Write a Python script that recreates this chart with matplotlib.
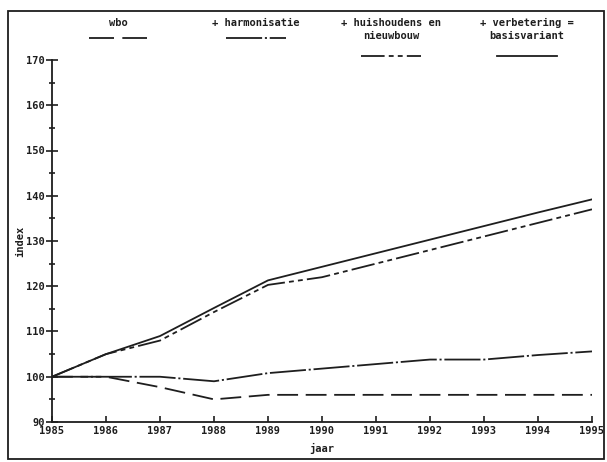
import matplotlib
matplotlib.use("Agg")
import matplotlib.pyplot as plt
from matplotlib.lines import Line2D
from matplotlib.patches import Rectangle
from matplotlib.ticker import MultipleLocator
import matplotlib.transforms as mtransforms

plt.rcParams['font.family'] = ['DejaVu Sans Mono']
plt.rcParams['lines.scale_dashes'] = False

years = [1985, 1986, 1987, 1988, 1989, 1990, 1991, 1992, 1993, 1994, 1995]
wbo = [100, 100, 97.7, 95, 96, 96, 96, 96, 96, 96, 96]
harmonisatie = [100, 100, 100, 99, 100.8, 101.8, 102.8, 103.8, 103.8, 104.8, 105.6]
huishoudens = [100, 105, 108, 114.3, 120.3, 122, 125, 128, 131, 134, 137]
basisvariant = [100, 105, 109, 115.2, 121.3, 124.3, 127.3, 130.3, 133.3, 136.3, 139.2]

labels = ["wbo", "+ harmonisatie", "+ huishoudens en\nnieuwbouw", "+ verbetering =\nbasisvariant"]

ink = '#1e1e1e'
W, H = 607, 462
fig = plt.figure(figsize=(W / 100, H / 100), dpi=100)

styles = [
    dict(dashes=(15, 5.5)),
    dict(dashes=(26, 2, 1.5, 2)),
    dict(dashes=(17, 3, 3.5, 3, 3.5, 3)),
    dict(linestyle='-'),
]
legend_styles = [
    dict(dashes=(18, 6)),
    styles[1],
    styles[2],
    styles[3],
]

ax = fig.add_axes([52 / W, 1 - 422 / H, 540 / W, 362 / H])
series = [wbo, harmonisatie, huishoudens, basisvariant]
for s, st in zip(series, styles):
    ax.plot(years, s, color=ink, lw=1.3, **st)

ax.set_xlim(1985, 1995)
ax.set_ylim(90, 170)
ax.xaxis.set_major_locator(MultipleLocator(1))
ax.yaxis.set_major_locator(MultipleLocator(10))
ax.yaxis.set_minor_locator(MultipleLocator(5))
for sp in ['top', 'right']:
    ax.spines[sp].set_visible(False)
for sp in ['left', 'bottom']:
    ax.spines[sp].set_linewidth(1.3)
    ax.spines[sp].set_color(ink)
ax.tick_params(axis='y', which='major', direction='inout', length=8, width=1.2, color=ink,
               labelsize=7.5, pad=1, labelcolor=ink)
ax.tick_params(axis='y', which='minor', direction='inout', length=4, width=1.2, color=ink)
ax.tick_params(axis='x', which='major', direction='in', length=4, width=1.2, color=ink,
               labelsize=7.5, pad=3, labelcolor=ink)
fig.canvas.draw()
for lab in ax.get_xticklabels() + ax.get_yticklabels():
    lab.set_fontweight('bold')
ylabs = ax.get_yticklabels()
ylabs[0].set_transform(ylabs[0].get_transform() +
                       mtransforms.ScaledTranslation(-1 / 100, 3 / 100, fig.dpi_scale_trans))
ax.set_xlabel('jaar', fontsize=7.5, fontweight='bold', color=ink, labelpad=5)
ax.set_ylabel('index', fontsize=7.5, fontweight='bold', color=ink, labelpad=1)

# border frame
fig.patches.append(Rectangle((8 / W, 1 - 459 / H), 596 / W, 448 / H, transform=fig.transFigure,
                             fill=False, edgecolor=ink, lw=1.3))

# legend header
centers = [118, 256, 391, 527]
line_y = [38, 38, 56, 56]
halves = [29, 30, 30, 30]
for cx, lab, ly, st, half in zip(centers, labels, line_y, legend_styles, halves):
    fig.text(cx / W, 1 - 18 / H, lab, ha='center', va='top', fontsize=7.5, fontweight='bold',
             color=ink, linespacing=1.35)
    fig.lines.append(Line2D([(cx - half) / W, (cx + half) / W], [1 - ly / H, 1 - ly / H],
                            transform=fig.transFigure, color=ink, lw=1.3, **st))

fig.savefig('out.png', dpi=100)
